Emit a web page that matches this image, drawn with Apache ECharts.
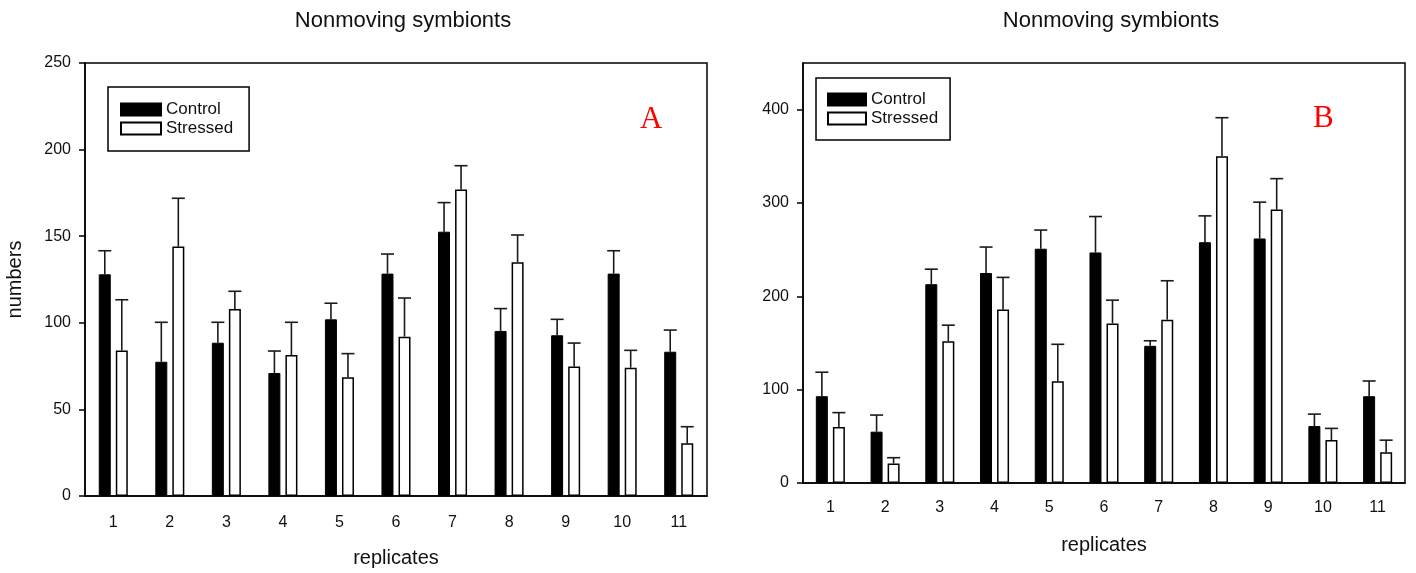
<!DOCTYPE html>
<html lang="en">
  <head>
    <meta charset="UTF-8" />
    <title>Nonmoving symbionts</title>
    <style>
      * {
        padding: 0;
        margin: 0;
      }
      html,
      body {
        width: 100%;
        height: 100%;
        background: #fff;
      }
      #main {
        width: 1416px;
        height: 573px;
      }
    </style>
  </head>
  <body>
    <div id="main"></div>
    <script src="https://cdn.jsdelivr.net/npm/echarts@6/dist/echarts.min.js"></script>
    <script>
      // replicate labels on the x axis
      var replicates = ['1', '2', '3', '4', '5', '6', '7', '8', '9', '10', '11'];

      // panel A
      var controlA = [128, 77.5, 88.5, 71, 102, 128.4, 152.6, 95.3, 92.8, 128.4, 83.3];
      var controlAErr = [13.6, 22.8, 11.8, 12.7, 9.3, 11.3, 16.8, 12.9, 9.2, 13.2, 12.5];
      var stressedA = [84, 144, 108, 81.4, 68.5, 92, 177, 135, 74.7, 74.1, 30.4];
      var stressedAErr = [29.3, 27.9, 10.2, 18.9, 13.7, 22.3, 13.7, 15.7, 13.6, 10, 9.6];

      // panel B
      var controlB = [93, 55, 213, 225, 251, 247, 147, 258, 262, 61, 93];
      var controlBErr = [25.7, 17.8, 16.1, 27.8, 20, 38.5, 5.4, 28.2, 38.9, 12.8, 16.3];
      var stressedB = [60, 21, 152, 186, 109, 171, 175, 350, 293, 46, 33];
      var stressedBErr = [15.4, 6.1, 17.1, 34.3, 39.6, 24.9, 41.7, 41.4, 33.1, 12.5, 12.9];

      var yTicksA = [0, 50, 100, 150, 200, 250];
      var yTicksB = [0, 100, 200, 300, 400];

      var font = 'Liberation Sans, Arial, sans-serif';
      var barW = 12;
      var gapPx = 5;

      var myChart = echarts.init(document.getElementById('main'));

      function errorSeries(name, vals, errs, axisIdx, side) {
        return {
          name: name,
          type: 'custom',
          xAxisIndex: axisIdx,
          yAxisIndex: axisIdx,
          silent: true,
          z: 1,
          data: vals.map(function (v, i) {
            return [i, v, errs[i]];
          }),
          encode: { x: 0, y: 1 },
          renderItem: function (params, api) {
            var base = api.coord([api.value(0), api.value(1)]);
            var top = api.coord([api.value(0), api.value(1) + api.value(2)]);
            var x = base[0] + side * (barW + gapPx) / 2;
            var style = { stroke: '#1a1a1a', lineWidth: 1.6 };
            return {
              type: 'group',
              children: [
                { type: 'line', shape: { x1: x, y1: base[1], x2: x, y2: top[1] }, style: style },
                { type: 'line', shape: { x1: x - 6.5, y1: top[1], x2: x + 6.5, y2: top[1] }, style: style }
              ]
            };
          }
        };
      }

      function barSeries(name, vals, axisIdx, filled) {
        return {
          name: name,
          type: 'bar',
          xAxisIndex: axisIdx,
          yAxisIndex: axisIdx,
          barWidth: barW,
          barGap: (gapPx / barW * 100).toFixed(0) + '%',
          z: 2,
          itemStyle: filled
            ? { color: '#000', borderColor: '#000', borderWidth: 1 }
            : { color: '#fff', borderColor: '#000', borderWidth: 1.5 },
          data: vals
        };
      }

      function xAxis(gridIdx, labelMargin, nameGap) {
        return {
          type: 'category',
          gridIndex: gridIdx,
          data: replicates,
          name: 'replicates',
          nameLocation: 'middle',
          nameGap: nameGap,
          nameTextStyle: { fontFamily: font, fontSize: 20, color: '#111' },
          axisLine: { lineStyle: { color: '#000', width: 1.5 } },
          axisTick: { alignWithLabel: true, length: 6, lineStyle: { color: '#000', width: 1.5 } },
          axisLabel: { margin: labelMargin, fontFamily: font, fontSize: 16, color: '#111' },
          splitLine: { show: false }
        };
      }

      function yAxis(gridIdx, max, interval, name) {
        return {
          type: 'value',
          gridIndex: gridIdx,
          min: 0,
          max: max,
          interval: interval,
          name: name,
          nameLocation: 'middle',
          nameRotate: 90,
          nameGap: 60,
          nameTextStyle: { fontFamily: font, fontSize: 20, color: '#111' },
          axisLine: { show: true, lineStyle: { color: '#000', width: 1.5 } },
          axisTick: { show: true, length: 6, lineStyle: { color: '#000', width: 1.5 } },
          axisLabel: {
            margin: 14,
            fontFamily: font,
            fontSize: 16,
            color: '#111',
            showMaxLabel: true
          },
          splitLine: { show: false }
        };
      }

      var legendBase = {
        orient: 'vertical',
        align: 'left',
        icon: 'rect',
        borderColor: '#000',
        borderWidth: 1.5,
        itemWidth: 40,
        itemHeight: 12,
        itemGap: 2,
        selectedMode: false,
        textStyle: { fontFamily: font, fontSize: 17, color: '#111' },
        data: ['Control', 'Stressed']
      };

      var titleStyle = { fontFamily: font, fontSize: 22, fontWeight: 'normal', color: '#111' };

      var option = {
        animation: false,
        backgroundColor: '#fff',
        title: [
          { text: 'Nonmoving symbionts', left: 398, top: 5, textAlign: 'center', textStyle: titleStyle },
          { text: 'Nonmoving symbionts', left: 1106, top: 5, textAlign: 'center', textStyle: titleStyle }
        ],
        legend: [
          Object.assign({}, legendBase, { left: 108, top: 87, padding: [14, 16, 14, 12] }),
          Object.assign({}, legendBase, { left: 816, top: 78, padding: [13, 12, 13, 11], itemWidth: 38 })
        ],
        grid: [
          { left: 85, top: 63, width: 622, height: 433, show: true, borderColor: '#000', borderWidth: 1.5 },
          { left: 803, top: 63, width: 602, height: 420, show: true, borderColor: '#000', borderWidth: 1.5 }
        ],
        xAxis: [xAxis(0, 19, 52), xAxis(1, 17, 52)],
        yAxis: [
          yAxis(0, yTicksA[yTicksA.length - 1], yTicksA[1] - yTicksA[0], 'numbers'),
          yAxis(1, 450, yTicksB[1] - yTicksB[0], '')
        ],
        graphic: [
          {
            type: 'text',
            left: 640,
            top: 104,
            style: { text: 'A', fontFamily: 'Liberation Serif, Times New Roman, serif', fontSize: 31, fill: '#ff0000' }
          },
          {
            type: 'text',
            left: 1313,
            top: 103,
            style: { text: 'B', fontFamily: 'Liberation Serif, Times New Roman, serif', fontSize: 31, fill: '#ff0000' }
          }
        ],
        series: [
          barSeries('Control', controlA, 0, true),
          barSeries('Stressed', stressedA, 0, false),
          errorSeries('ControlErrA', controlA, controlAErr, 0, -1),
          errorSeries('StressedErrA', stressedA, stressedAErr, 0, 1),
          barSeries('Control', controlB, 1, true),
          barSeries('Stressed', stressedB, 1, false),
          errorSeries('ControlErrB', controlB, controlBErr, 1, -1),
          errorSeries('StressedErrB', stressedB, stressedBErr, 1, 1)
        ]
      };

      // B axis stops at 450 but labels only up to 400
      option.yAxis[1].axisLabel.formatter = function (v) {
        return yTicksB.indexOf(v) >= 0 ? String(v) : '';
      };
      option.yAxis[1].axisTick.customValues = yTicksB;
      option.yAxis[1].axisLabel.customValues = yTicksB;

      myChart.setOption(option);
    </script>
  </body>
</html>
